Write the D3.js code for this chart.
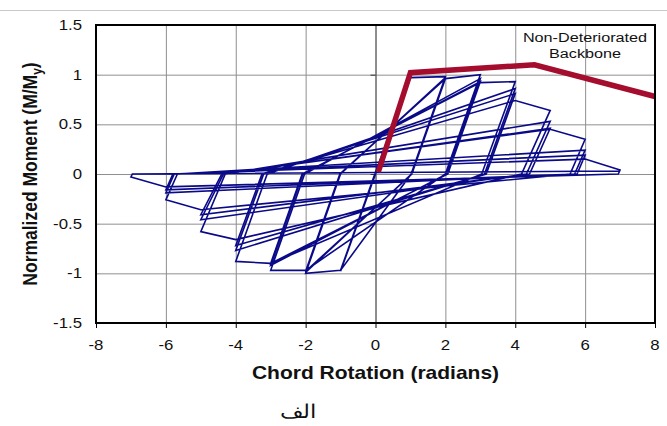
<!DOCTYPE html>
<html>
<head>
<meta charset="utf-8">
<script src="https://cdn.jsdelivr.net/npm/d3@7"></script>
<style>
  body { margin: 0; background: #fff; }
  svg { display: block; }
  text { font-family: "Liberation Sans", Arial, sans-serif; }
</style>
</head>
<body>
<svg id="chart" width="667" height="426"></svg>
<script>
// axis ticks
const xTicks = [-8, -6, -4, -2, 0, 2, 4, 6, 8];
const yTicks = [-1.5, -1, -0.5, 0, 0.5, 1, 1.5];

// backbone (non-deteriorated)
const backboneRotation = [0.08, 1, 4.55, 8];
const backboneMoment = [0.02, 1.02, 1.1, 0.78];

// cyclic response, vertices in loading order (amplitudes 1..7)
const hystRotation = [
  0,
  1, -1, 1, -1, 1, -1,
  -0.02, 1, 2, 1.02, -1, -2, -1.0, 2, 1.03, -2, -1.01, 2, 1.04, -2, -1.02,
  2, 3, 2.0, -2, -3, -2.03, 3, 2.04, -3, -2.08, 3, 2.07, -3, -2.1,
  3, 4, 3.04, -3, -4, -3.1, 4, 3.12, -4, -3.2, 4, 3.17, -4, -3.25,
  4, 5, 4.18, -4, -5, -4.3, 5, 4.32, -5, -4.35, 5, 4.41, -5, -4.4,
  5, 6, 5.57, -5, -6, -5.67, 6, 5.7, -6, -5.76, 6, 5.77, -6, -5.8,
  6, 7, 6.95, -6, -7, -6.96, 7
];
const hystMoment = [
  0,
  0.98, -0.98, 0.98, -0.97, 0.97, -0.97,
  0, 0.97, 0.98, 0, -0.97, -1.0, 0, 0.97, 0, -0.99, 0, 0.96, 0, -0.98, 0,
  0.96, 1.0, 0, -0.97, -0.97, 0, 0.96, 0, -0.92, 0, 0.93, 0, -0.9, 0,
  0.92, 0.93, 0, -0.9, -0.88, 0, 0.86, 0, -0.77, 0, 0.81, 0, -0.72, 0,
  0.74, 0.64, 0, -0.66, -0.58, 0, 0.53, 0, -0.46, 0, 0.46, 0, -0.41, 0,
  0.45, 0.35, 0, -0.36, -0.26, 0, 0.24, 0, -0.19, 0, 0.19, 0, -0.16, 0,
  0.15, 0.04, 0, -0.13, -0.03, 0, 0.03
];

const svg = d3.select("#chart");
const stretch = 1.2; // the original picture is widened horizontally

const x = d3.scaleLinear().domain([-8, 8]).range([96, 655]);
const y = d3.scaleLinear().domain([-1.5, 1.5]).range([323, 25]);

// page separator line at the top
svg.append("line")
    .attr("x1", 0).attr("x2", 667)
    .attr("y1", 10.5).attr("y2", 10.5)
    .attr("stroke", "#c8c8c8")
    .attr("stroke-width", 1);

// grid
svg.append("g")
    .attr("transform", `translate(0,${y(-1.5)})`)
    .call(d3.axisBottom(x).tickValues(xTicks).tickSize(-(y(-1.5) - y(1.5))).tickFormat(""))
    .call(g => g.select(".domain").remove())
    .call(g => g.selectAll("line").attr("stroke", "#8f8f8f"));
svg.append("g")
    .attr("transform", `translate(${x(-8)},0)`)
    .call(d3.axisLeft(y).tickValues(yTicks).tickSize(-(x(8) - x(-8))).tickFormat(""))
    .call(g => g.select(".domain").remove())
    .call(g => g.selectAll("line").attr("stroke", "#8f8f8f"));

// y axis through zero rotation with small ticks
svg.append("g")
    .attr("transform", `translate(${x(0)},0)`)
    .call(d3.axisLeft(y).tickValues(yTicks).tickSize(5).tickFormat(""))
    .call(g => g.select(".domain").attr("stroke", "#555"))
    .call(g => g.selectAll("line").attr("stroke", "#333"));

// hysteresis
const hyst = hystRotation.map((r, i) => [r, hystMoment[i]]);
const line = d3.line().x(d => x(d[0])).y(d => y(d[1]));

svg.append("path")
    .datum(hyst)
    .attr("d", line)
    .attr("fill", "none")
    .attr("stroke", "#0a0a88")
    .attr("stroke-width", 1.6)
    .attr("stroke-linejoin", "miter");

// backbone
const backbone = backboneRotation.map((r, i) => [r, backboneMoment[i]]);
svg.append("path")
    .datum(backbone)
    .attr("d", line)
    .attr("fill", "none")
    .attr("stroke", "#a50d2e")
    .attr("stroke-width", 5.5)
    .attr("stroke-linejoin", "miter");

// frame
svg.append("rect")
    .attr("x", x(-8)).attr("y", y(1.5))
    .attr("width", x(8) - x(-8))
    .attr("height", y(-1.5) - y(1.5))
    .attr("fill", "none")
    .attr("stroke", "#000")
    .attr("stroke-width", 2);

// bottom ticks
svg.append("g")
    .attr("transform", `translate(0,${y(-1.5) + 1})`)
    .call(d3.axisBottom(x).tickValues(xTicks).tickSize(4).tickFormat(""))
    .call(g => g.select(".domain").remove())
    .call(g => g.selectAll("line").attr("stroke", "#000"));

// stretched text helper
function label(px, py, str, size, anchor, weight) {
  return svg.append("text")
      .attr("transform", `translate(${px},${py}) scale(${stretch},1)`)
      .attr("text-anchor", anchor)
      .attr("font-size", size)
      .attr("font-weight", weight || "normal")
      .attr("fill", "#111")
      .text(str);
}

xTicks.forEach(t => label(x(t), 350, String(t), 14, "middle"));
yTicks.forEach(t => label(82, y(t) + 5, String(t), 14, "end"));

label(375.5, 379, "Chord Rotation (radians)", 17.5, "middle", "bold");

// y title with subscript
const yTitle = svg.append("text")
    .attr("transform", `translate(37,174) scale(${stretch},1) rotate(-90)`)
    .attr("text-anchor", "middle")
    .attr("font-size", 17.5)
    .attr("font-weight", "bold")
    .attr("fill", "#111");
yTitle.append("tspan").text("Normalized Moment (M/M");
yTitle.append("tspan").attr("font-size", 12).attr("dy", 4).text("y");
yTitle.append("tspan").attr("dy", -4).text(")");

// annotation
label(585, 42, "Non-Deteriorated", 13.5, "middle");
label(585, 58, "Backbone", 13.5, "middle");

// caption
svg.append("text")
    .attr("transform", `translate(298,418) scale(${stretch},1)`)
    .attr("text-anchor", "middle")
    .attr("font-family", "'DejaVu Sans', 'Noto Sans', sans-serif")
    .attr("font-size", 19)
    .attr("fill", "#111")
    .text("الف");
</script>
</body>
</html>
